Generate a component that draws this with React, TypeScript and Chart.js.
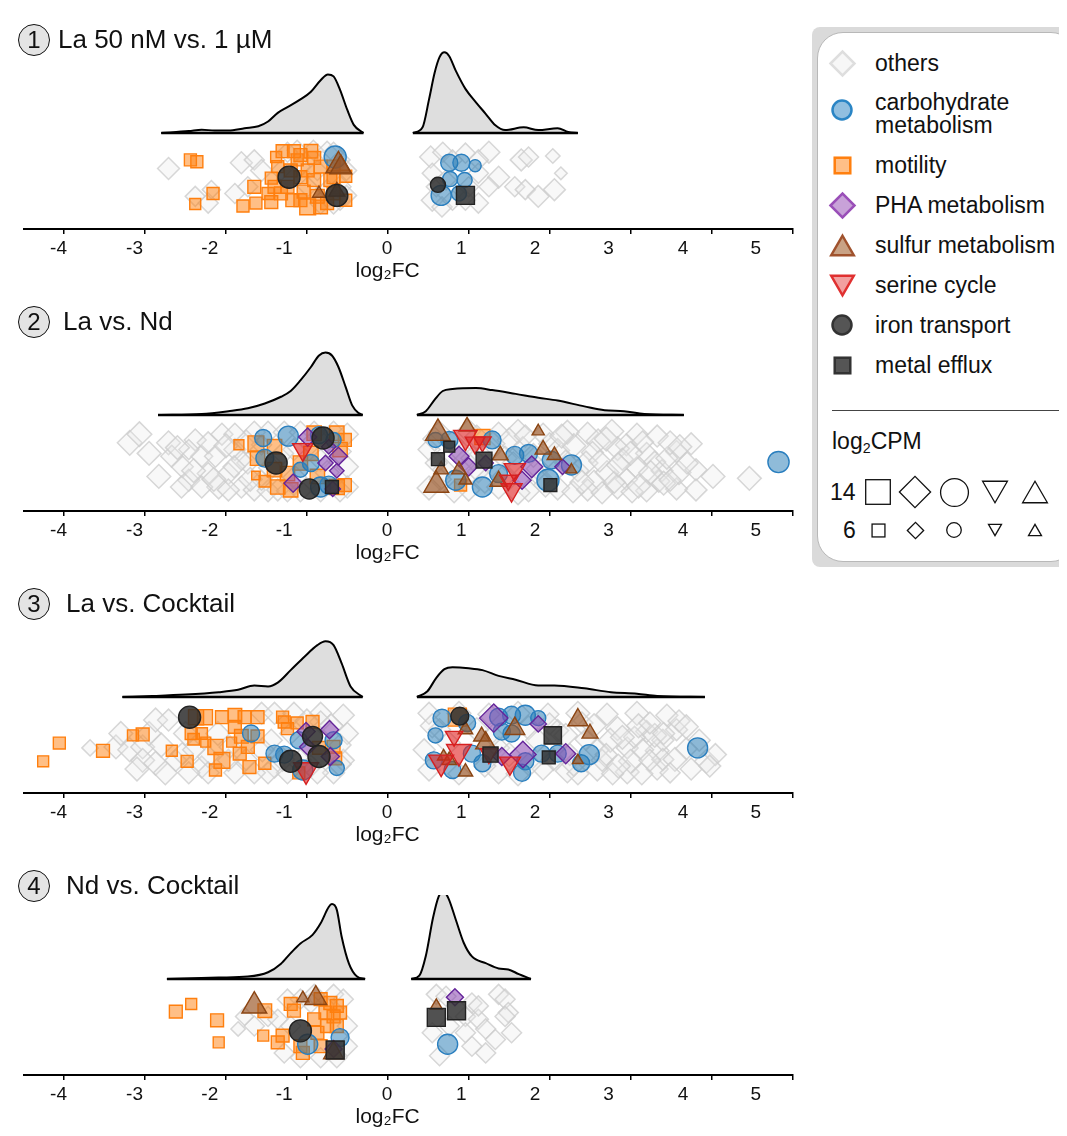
import React, { useEffect, useRef } from "react";
import { Chart, registerables } from "chart.js";

Chart.register(...registerables);

const FONT = "'Liberation Sans', Arial, Helvetica, sans-serif";
Chart.defaults.font.family = FONT;

type Pt = [number, number, number]; // [log2FC, jitter, log2CPM]
type Dn = [number, number]; // [log2FC, density]

// ---------- axis ----------
const xTicks = [-4, -3, -2, -1, 0, 1, 2, 3, 4, 5];
const xTickLabels = ["-4", "-3", "-2", "-1", "0", "1", "2", "3", "4", "5"];
const xTickLabelAt = [-4.07, -3.13, -2.2, -1.28, -0.01, 0.91, 1.82, 2.73, 3.65, 4.55];
const xTitle = "log\u2082FC";

const panelNumbers = ["1", "2", "3", "4"];
const panelTitles = ["La 50 nM vs. 1 µM", "La vs. Nd", "La vs. Cocktail", "Nd vs. Cocktail"];

const categories = [
  "others",
  "motility",
  "carbohydrate metabolism",
  "PHA metabolism",
  "sulfur metabolism",
  "serine cycle",
  "iron transport",
  "metal efflux",
];
const legendOrder = [
  "others",
  "carbohydrate metabolism",
  "motility",
  "PHA metabolism",
  "sulfur metabolism",
  "serine cycle",
  "iron transport",
  "metal efflux",
];
const sizeLegendValues = [14, 6];

// ---------- densities ----------
const dens1Neg: Dn[] = [[-2.8,0],[-2.46,0.02],[-2.3,0.035],[-2.14,0.025],[-1.97,0.025],[-1.77,0.05],[-1.6,0.07],[-1.48,0.12],[-1.36,0.21],[-1.24,0.27],[-1.08,0.35],[-0.95,0.43],[-0.83,0.55],[-0.74,0.61],[-0.67,0.59],[-0.59,0.45],[-0.5,0.24],[-0.42,0.085],[-0.3,0]];
const dens1Pos: Dn[] = [[0.31,0],[0.43,0.06],[0.51,0.35],[0.58,0.63],[0.64,0.79],[0.7,0.84],[0.76,0.8],[0.84,0.65],[0.96,0.46],[1.09,0.32],[1.21,0.2],[1.33,0.08],[1.45,0.03],[1.68,0.06],[1.86,0.03],[2.1,0.05],[2.23,0.01],[2.35,0]];
const dens2Neg: Dn[] = [[-2.84,0],[-2.3,0.01],[-1.97,0.04],[-1.73,0.07],[-1.52,0.12],[-1.32,0.19],[-1.2,0.25],[-1.08,0.36],[-0.95,0.5],[-0.85,0.62],[-0.77,0.65],[-0.69,0.62],[-0.61,0.5],[-0.52,0.29],[-0.44,0.1],[-0.36,0.02],[-0.31,0]];
const dens2Pos: Dn[] = [[0.36,0],[0.47,0.04],[0.58,0.16],[0.68,0.25],[0.8,0.27],[1.09,0.28],[1.29,0.26],[1.58,0.22],[1.86,0.18],[2.1,0.15],[2.43,0.09],[2.68,0.05],[2.92,0.04],[3.17,0.01],[3.66,0]];
const dens3Neg: Dn[] = [[-3.28,0],[-2.91,0.01],[-2.5,0.025],[-2.09,0.05],[-1.85,0.075],[-1.65,0.12],[-1.48,0.11],[-1.36,0.15],[-1.2,0.28],[-1.03,0.42],[-0.87,0.54],[-0.77,0.58],[-0.67,0.54],[-0.57,0.35],[-0.46,0.11],[-0.31,0]];
const dens3Pos: Dn[] = [[0.36,0],[0.49,0.06],[0.6,0.2],[0.7,0.29],[0.8,0.31],[1.0,0.3],[1.17,0.28],[1.37,0.22],[1.58,0.18],[1.86,0.12],[2.06,0.12],[2.43,0.09],[2.76,0.05],[3.08,0.035],[3.33,0.01],[3.92,0]];
const dens4Neg: Dn[] = [[-2.73,0],[-2.09,0.015],[-1.73,0.025],[-1.48,0.07],[-1.32,0.16],[-1.2,0.27],[-1.08,0.37],[-0.93,0.46],[-0.83,0.58],[-0.73,0.75],[-0.69,0.78],[-0.63,0.72],[-0.57,0.44],[-0.48,0.16],[-0.38,0.025],[-0.28,0]];
const dens4Pos: Dn[] = [[0.29,0],[0.39,0.035],[0.47,0.24],[0.56,0.64],[0.63,0.86],[0.69,0.91],[0.75,0.84],[0.84,0.62],[0.94,0.375],[1.04,0.235],[1.21,0.165],[1.37,0.11],[1.49,0.1],[1.62,0.05],[1.77,0]];

// ---------- panel 1 ----------
const p1Others: Pt[] = [[-2.71,0.63,9],[-2.38,0.34,8],[-2.22,0.27,8],[-2.18,0.41,7],[-1.89,0.37,8],[-1.81,0.69,9],[-1.65,0.72,8],[-1.56,0.61,9],[-1.73,0.44,8],[-1.12,0.82,8],[-0.92,0.82,8],[-0.75,0.8,9],[-0.67,0.8,8],[-0.59,0.72,8],[-0.59,0.44,9],[-0.59,0.3,8],[-0.83,0.27,9],[-1.32,0.61,8],[-1.08,0.65,8],[-0.87,0.61,8],[-0.99,0.44,8],[-0.75,0.41,8],[-0.67,0.27,9],[-1.24,0.8,8],[-0.51,0.61,8],[-0.51,0.35,8],
  [0.53,0.75,9],[0.68,0.8,8],[0.8,0.72,8],[0.96,0.79,8],[1.25,0.8,9],[1.12,0.72,8],[1.37,0.54,9],[1.12,0.58,8],[1.25,0.44,8],[1.65,0.72,9],[1.74,0.75,8],[2.04,0.76,5],[2.14,0.58,4],[1.57,0.44,8],[1.7,0.41,8],[1.86,0.34,9],[2.06,0.41,9],[0.55,0.58,8],[0.55,0.3,9],[0.67,0.23,8],[0.8,0.3,8],[0.96,0.3,8],[1.12,0.27,8],[0.6,0.44,8],[0.72,0.51,8],[1.0,0.44,8]];
const p1Carb: Pt[] = [[-0.65,0.75,10.5],[0.76,0.69,7.5],[0.91,0.69,7.5],[1.08,0.66,4.5],[0.77,0.52,6.3],[0.95,0.51,6.3],[0.66,0.35,9.3],[0.88,0.37,6.3]];
const p1Motility: Pt[] = [[-2.44,0.72,5.4],[-2.36,0.7,5.4],[-2.16,0.37,5.4],[-2.38,0.26,4.7],[-1.79,0.24,5.4],[-1.65,0.44,6],[-1.63,0.27,5.4],[-1.44,0.28,6],[-1.38,0.75,4.7],[-1.36,0.65,5.4],[-1.3,0.81,6],[-1.16,0.81,6],[-1.12,0.72,5.4],[-0.95,0.81,6.5],[-1.32,0.37,6],[-1.24,0.44,6],[-1.08,0.3,6],[-0.99,0.23,8],[-1.04,0.39,6],[-0.91,0.51,6],[-0.87,0.34,6.5],[-0.83,0.23,6.5],[-0.75,0.27,6],[-0.67,0.37,6],[-0.71,0.51,6],[-0.83,0.65,6],[-0.99,0.61,6],[-1.08,0.54,6],[-1.18,0.3,6],[-1.4,0.44,6],[-1.44,0.53,5.4],[-1.48,0.37,5.4],[-0.67,0.65,6],[-0.91,0.74,6],[-0.67,0.54,6],[-0.52,0.55,5.4],[-0.52,0.3,5.4],[-1.08,0.77,6],[-1.2,0.61,6]];
const p1PHA: Pt[] = [];
const p1Sulfur: Pt[] = [[-0.61,0.66,14],[-0.58,0.64,12],[-0.85,0.37,6],[-0.63,0.39,8]];
const p1Serine: Pt[] = [];
const p1Iron: Pt[] = [[-1.22,0.54,10.5],[-0.63,0.35,10.5],[0.62,0.46,6.3]];
const p1Efflux: Pt[] = [[0.96,0.35,9.5]];

// ---------- panel 2 ----------
const p2Others: Pt[] = [[-3.19,0.71,10.5],[-3.07,0.8,10.5],[-2.83,0.36,10],[-2.71,0.71,10],[-2.67,0.57,9],[-2.54,0.46,9],[-2.46,0.32,9],[-2.38,0.74,9],[-2.3,0.57,9],[-2.22,0.71,9],[-2.13,0.57,9],[-2.09,0.25,10],[-2.05,0.8,9],[-1.97,0.39,9],[-1.89,0.64,9],[-1.81,0.25,9],[-1.73,0.5,9],[-1.65,0.22,9],[-2.22,0.39,9],[-2.3,0.25,9],[-2.46,0.64,8],[-1.97,0.22,9],[-1.48,0.21,9],[-1.36,0.22,9],[-1.24,0.21,9],[-1.89,0.8,9],[-1.65,0.82,9],[-1.48,0.82,9],[-1.28,0.82,9],[-1.08,0.82,9],[-0.91,0.82,9],[-0.67,0.82,9],[-0.5,0.8,9],[-0.5,0.46,9],[-0.5,0.25,9],[-0.59,0.21,9],[-0.83,0.21,9],[-1.08,0.21,9],[-1.16,0.64,9],[-0.83,0.53,9],[-1.81,0.53,8],[-1.56,0.69,8],[-1.56,0.32,8],
  [-2.95,0.6,10],[-2.6,0.66,10],[-2.4,0.42,10],[-2.15,0.33,10],[-2.0,0.68,10],[-1.75,0.72,10],[-1.7,0.33,10],[-1.45,0.45,10],[-1.3,0.6,9],[-1.15,0.35,10],[-0.95,0.7,9],[-0.75,0.4,10],[-0.6,0.62,10],[-1.9,0.46,9],[-2.55,0.25,9],
  [0.64,0.82,9],[1.0,0.83,10],[1.37,0.81,9],[1.61,0.83,10],[1.92,0.8,9],[2.22,0.82,10],[2.47,0.81,9],[2.77,0.83,10],[3.08,0.8,9],[3.33,0.78,9],
  [0.8,0.72,9],[1.5,0.74,10],[2.0,0.7,9],[2.6,0.73,10],[2.95,0.69,9],
  [0.51,0.64,9],[1.25,0.62,10],[1.67,0.66,9],[2.1,0.63,10],[2.53,0.61,9],[2.84,0.65,10],[3.2,0.6,9],[3.57,0.62,9],
  [0.95,0.53,9],[1.45,0.55,10],[2.2,0.52,9],[2.45,0.5,10],[2.9,0.54,9],[3.3,0.51,9],
  [0.7,0.43,10],[1.12,0.41,9],[1.86,0.44,10],[2.35,0.42,9],[2.71,0.4,10],[3.08,0.45,9],[3.39,0.42,9],
  [0.65,0.33,9],[1.2,0.31,10],[1.9,0.34,9],[2.55,0.3,10],[2.95,0.33,9],[3.35,0.31,9],
  [0.51,0.24,10],[1.0,0.22,9],[1.37,0.25,10],[1.74,0.21,9],[2.1,0.24,10],[2.47,0.22,9],[2.84,0.25,10],[3.2,0.21,9],[3.57,0.23,9],
  [0.82,0.2,9],[1.61,0.19,10],[2.29,0.2,9],[2.65,0.19,9],[3.02,0.2,9],
  [0.58,0.75,10],[0.9,0.62,10],[1.1,0.77,10],[1.3,0.7,10],[1.45,0.37,10],[1.55,0.5,9],[1.8,0.58,10],[1.95,0.27,10],[2.05,0.4,9],[2.3,0.68,10],[2.4,0.3,10],[2.62,0.52,9],[2.7,0.75,10],[2.8,0.3,9],[3.0,0.6,10],[3.15,0.72,9],[3.25,0.4,10],[3.45,0.55,9],[3.6,0.4,10],[3.75,0.7,9],[1.05,0.55,10],[0.6,0.5,9],[1.7,0.78,9],[2.15,0.78,10],[2.85,0.48,10],[3.1,0.26,10],
  [3.49,0.71,10],[3.61,0.67,10],[3.41,0.29,10],[3.49,0.32,9],[4.02,0.36,10],[4.47,0.34,10],[3.81,0.43,9],[3.81,0.22,9],[3.7,0.5,9]];
const p2Carb: Pt[] = [[-1.54,0.76,7.5],[-1.52,0.55,8],[-1.23,0.78,9.3],[-0.85,0.79,7.5],[-0.95,0.5,7.5],[-0.83,0.25,9.3],[-0.73,0.27,8],[-0.67,0.74,6.3],[-1.08,0.43,6.3],
  [0.59,0.74,6.3],[0.76,0.74,7.5],[1.29,0.74,8],[1.57,0.58,8],[1.74,0.6,8],[2.27,0.48,9.3],[1.98,0.32,10.5],[2.02,0.53,8],[0.84,0.32,9.3],[1.17,0.25,9.3],[1.37,0.39,8],[4.83,0.51,10]];
const p2Motility: Pt[] = [[-1.84,0.69,4],[-1.63,0.7,8],[-1.61,0.55,7],[-1.63,0.37,3],[-1.52,0.31,5],[-1.4,0.67,7],[-1.4,0.43,7],[-1.36,0.25,7],[-1.2,0.22,7],[-1.24,0.39,7],[-1.08,0.5,7],[-0.95,0.6,7],[-0.87,0.36,7],[-0.91,0.81,7],[-0.63,0.81,7],[-0.63,0.25,7.5],[-0.59,0.64,7],[-0.53,0.74,6],[-0.53,0.27,6],
  [1.17,0.77,7.5],[0.9,0.27,5.4]];
const p2PHA: Pt[] = [[-0.99,0.77,7],[-0.61,0.57,7],[-0.77,0.5,5.5],[-0.63,0.42,5],[-0.73,0.67,5],[-1.17,0.29,7],[-0.68,0.23,5.5],
  [0.88,0.57,8],[1.0,0.46,7],[1.21,0.5,5.5],[1.78,0.46,9],[1.66,0.32,7],[2.16,0.46,5.5]];
const p2Sulfur: Pt[] = [[0.62,0.81,14],[0.6,0.27,14],[0.98,0.88,8],[1.86,0.83,5.5],[1.92,0.64,8],[2.06,0.58,7],[1.39,0.58,8],[1.37,0.31,9],[0.96,0.32,6],[0.66,0.43,7],[2.27,0.43,4.5],[0.88,0.43,7]];
const p2Serine: Pt[] = [[-1.05,0.64,11],[0.96,0.77,13],[1.08,0.71,10.5],[1.17,0.72,9],[1.57,0.43,11.5],[1.53,0.22,11.5],[1.49,0.32,9]];
const p2Iron: Pt[] = [[-1.38,0.5,10.5],[-0.8,0.76,10.5],[-0.97,0.23,9.3]];
const p2Efflux: Pt[] = [[-0.69,0.25,6],[0.76,0.67,4.7],[0.62,0.54,6],[1.19,0.53,8],[2.01,0.27,6]];

// ---------- panel 3 ----------
const p3Others: Pt[] = [[-3.68,0.47,6],[-3.36,0.48,10],[-3.19,0.45,10],[-3.03,0.48,10],[-2.95,0.62,10],[-3.03,0.34,10],[-2.87,0.31,10],[-2.75,0.21,10],[-2.62,0.34,9],[-2.87,0.76,10],[-2.71,0.76,9],[-2.54,0.41,9],[-2.3,0.27,9],[-2.22,0.38,9],[-1.56,0.83,9],[-1.4,0.83,9],[-1.4,0.27,9],[-1.16,0.83,9],[-0.83,0.83,9],[-0.55,0.81,9],[-0.5,0.62,9],[-0.55,0.34,9],[-0.67,0.21,9],[-0.87,0.21,9],[-1.24,0.21,9],[-1.48,0.21,9],[-1.65,0.21,9],[-1.89,0.21,9],[-1.97,0.34,9],[-2.22,0.21,9],[-2.46,0.21,9],[-1.44,0.55,9],[-1.08,0.34,9],[-0.83,0.74,9],[-0.59,0.5,9],
  [-3.3,0.62,10],[-3.1,0.25,10],[-2.8,0.5,10],[-2.5,0.62,10],[-2.4,0.45,9],[-2.1,0.62,10],[-1.95,0.48,9],[-1.75,0.35,9],[-1.55,0.45,10],[-1.3,0.35,10],[-1.2,0.62,9],[-1.0,0.75,10],[-0.7,0.7,10],[-0.6,0.3,10],[-0.95,0.28,9],
  [0.51,0.83,9],[0.88,0.83,10],[1.25,0.82,9],[1.61,0.83,10],[1.98,0.82,9],[2.35,0.83,10],[2.71,0.82,9],[3.08,0.83,10],[3.45,0.81,9],
  [0.64,0.66,9],[1.74,0.68,10],[2.1,0.65,9],[2.84,0.67,10],[3.2,0.64,9],[3.57,0.66,9],
  [2.59,0.45,10],[2.96,0.47,9],[3.33,0.44,10],[3.69,0.46,9],[0.45,0.45,9],[1.37,0.47,9],
  [2.45,0.56,9],[2.75,0.55,10],[3.05,0.58,9],[3.4,0.55,9],
  [0.51,0.24,9],[1.37,0.22,10],[1.92,0.25,9],[2.22,0.23,10],[2.59,0.24,9],[2.96,0.22,10],[3.33,0.25,9],
  [0.88,0.2,9],[1.61,0.2,10],[2.35,0.2,9],[2.78,0.2,9],[3.14,0.2,9],
  [2.65,0.34,9],[3.0,0.33,10],[3.4,0.35,9],[2.4,0.73,9],[2.25,0.4,9],
  [0.55,0.7,10],[0.75,0.52,10],[1.1,0.66,10],[1.3,0.6,9],[1.5,0.4,10],[1.85,0.55,10],[2.0,0.72,9],[2.2,0.6,10],[2.3,0.3,10],[2.55,0.7,10],[2.7,0.4,9],[2.9,0.58,10],[3.1,0.7,10],[3.15,0.45,9],[3.3,0.6,10],[3.55,0.35,10],[3.6,0.75,9],[3.75,0.25,9],[1.2,0.28,9],[1.75,0.3,10],[2.05,0.35,9],[2.85,0.28,10],
  [3.69,0.69,10],[3.94,0.33,10],[3.49,0.21,8],[3.24,0.73,9],[3.41,0.62,9],[3.24,0.34,9],[4.05,0.4,9],[3.98,0.28,9],[3.85,0.55,9]];
const p3Carb: Pt[] = [[-1.69,0.62,7.5],[-1.4,0.41,7.5],[-1.1,0.55,7.5],[-1.05,0.24,9.3],[-0.67,0.55,7.5],[-0.63,0.26,6.3],[-1.28,0.4,7.5],
  [0.67,0.78,8],[0.59,0.6,6.3],[0.98,0.73,7.5],[1.37,0.79,8],[1.53,0.81,8],[1.7,0.81,9.3],[1.86,0.78,6.3],[1.53,0.62,7.5],[1.41,0.64,7.5],[0.57,0.34,7.5],[0.8,0.24,7.5],[1.17,0.31,7.5],[1.04,0.41,7.5],[1.66,0.21,7.5],[1.9,0.41,7.5],[2.1,0.41,7.5],[2.39,0.31,7.5],[2.49,0.4,9.3],[3.83,0.47,9.3],[1.7,0.33,7.5]];
const p3Motility: Pt[] = [[-4.26,0.33,4.7],[-4.06,0.52,5.4],[-3.52,0.44,6],[-3.15,0.6,4.7],[-3.03,0.61,6],[-2.67,0.44,4.7],[-2.48,0.33,5.4],[-2.43,0.62,5.4],[-2.4,0.56,5],[-2.3,0.62,5],[-2.25,0.53,4],[-2.37,0.79,7.5],[-2.26,0.79,7.5],[-2.13,0.48,7.5],[-2.05,0.34,8],[-2.13,0.24,5.4],[-2.05,0.79,6],[-1.89,0.81,6.5],[-1.77,0.79,6],[-1.89,0.69,6],[-1.81,0.59,6.5],[-1.93,0.53,4],[-1.73,0.48,6],[-1.83,0.41,6],[-1.71,0.27,6],[-1.61,0.79,6],[-1.52,0.31,5.4],[-1.61,0.59,6],[-1.3,0.79,5.4],[-1.28,0.74,5.4],[-1.24,0.67,5.4],[-1.12,0.73,5.4],[-0.93,0.74,6],[-1.1,0.21,5.4],[-0.67,0.48,6],[-0.85,0.47,6],[-0.65,0.36,6],
  [0.86,0.79,9.5]];
const p3PHA: Pt[] = [[-1.01,0.64,7],[-0.72,0.66,7],[-0.71,0.38,7],[-0.99,0.48,6],
  [1.31,0.78,12.5],[1.86,0.72,6],[1.67,0.4,11.5],[2.2,0.41,8],[1.41,0.38,7]];
const p3Sulfur: Pt[] = [[1.57,0.67,10.7],[2.35,0.76,10.7],[2.5,0.62,8],[1.16,0.59,8],[1.21,0.52,10.7],[2.35,0.34,4.5],[0.69,0.38,5.5],[0.96,0.22,7],[0.96,0.66,7],[0.76,0.34,7]];
const p3Serine: Pt[] = [[-1.01,0.24,14],[0.82,0.59,9],[0.88,0.43,14],[0.66,0.32,14],[1.25,0.41,9],[1.51,0.31,11.5]];
const p3Iron: Pt[] = [[-2.45,0.79,10.5],[-1.2,0.33,10.5],[-0.93,0.59,9.3],[-0.85,0.38,10.5],[0.89,0.8,8]];
const p3Efflux: Pt[] = [[2.04,0.6,9],[1.99,0.37,6],[1.27,0.4,7.5]];

// ---------- panel 4 ----------
const p4Others: Pt[] = [[-1.85,0.48,5],[-1.77,0.61,7],[-1.65,0.51,8],[-1.48,0.61,8],[-1.36,0.58,8],[-1.24,0.79,8],[-1.08,0.79,8],[-0.91,0.84,8],[-0.67,0.84,8],[-0.55,0.79,8],[-0.5,0.51,8],[-0.5,0.3,8],[-0.63,0.18,8],[-0.83,0.18,8],[-1.08,0.18,8],[-1.28,0.23,8],[-1.2,0.51,8],[-0.95,0.75,8],
  [0.6,0.84,8],[0.72,0.82,8],[1.04,0.75,8],[0.96,0.61,8],[1.12,0.58,8],[1.21,0.48,8],[1.37,0.84,8],[1.45,0.79,8],[1.49,0.65,8],[1.53,0.44,8],[1.33,0.37,8],[1.21,0.23,8],[1.04,0.3,8],[0.64,0.2,8],[0.55,0.44,8],[0.96,0.44,8],[0.76,0.51,8],[1.12,0.72,8],[1.45,0.61,8]];
const p4Carb: Pt[] = [[-0.99,0.32,9.3],[-0.59,0.39,8],[0.74,0.32,9.3]];
const p4Motility: Pt[] = [[-2.62,0.66,6],[-2.43,0.74,4.7],[-2.11,0.57,6],[-2.09,0.34,4.7],[-1.54,0.41,4.7],[-1.52,0.67,6.5],[-1.36,0.34,6],[-1.3,0.41,6],[-1.2,0.74,6],[-1.16,0.67,6],[-1.08,0.3,6],[-1.05,0.23,6],[-0.91,0.58,6],[-0.87,0.44,6],[-0.83,0.3,6],[-0.71,0.75,6],[-0.63,0.72,6],[-0.67,0.61,6],[-0.63,0.51,6],[-0.75,0.51,6],[-0.59,0.65,6],[-0.77,0.65,6],[-0.83,0.79,6]];
const p4PHA: Pt[] = [[-0.67,0.27,6.4],[0.83,0.81,6.4]];
const p4Sulfur: Pt[] = [[-1.65,0.72,14],[-1.05,0.8,5.5],[-0.89,0.8,12],[-0.67,0.23,10.7],[0.6,0.72,5.5]];
const p4Serine: Pt[] = [];
const p4Iron: Pt[] = [[-1.08,0.46,10.5]];
const p4Efflux: Pt[] = [[-0.65,0.26,9.5],[0.6,0.6,9.5],[0.85,0.67,9.5]];

const panels = [
  { densNeg: dens1Neg, densPos: dens1Pos, series: { others: p1Others, motility: p1Motility, "carbohydrate metabolism": p1Carb, "PHA metabolism": p1PHA, "sulfur metabolism": p1Sulfur, "serine cycle": p1Serine, "iron transport": p1Iron, "metal efflux": p1Efflux } },
  { densNeg: dens2Neg, densPos: dens2Pos, series: { others: p2Others, motility: p2Motility, "carbohydrate metabolism": p2Carb, "PHA metabolism": p2PHA, "sulfur metabolism": p2Sulfur, "serine cycle": p2Serine, "iron transport": p2Iron, "metal efflux": p2Efflux } },
  { densNeg: dens3Neg, densPos: dens3Pos, series: { others: p3Others, motility: p3Motility, "carbohydrate metabolism": p3Carb, "PHA metabolism": p3PHA, "sulfur metabolism": p3Sulfur, "serine cycle": p3Serine, "iron transport": p3Iron, "metal efflux": p3Efflux } },
  { densNeg: dens4Neg, densPos: dens4Pos, series: { others: p4Others, motility: p4Motility, "carbohydrate metabolism": p4Carb, "PHA metabolism": p4PHA, "sulfur metabolism": p4Sulfur, "serine cycle": p4Serine, "iron transport": p4Iron, "metal efflux": p4Efflux } },
];

// ---------- styles ----------
const STYLE: Record<string, any> = {
  others: { shape: "rectRot", k: 1.12, rot: 0, fill: "rgba(232,232,232,0.3)", stroke: "rgba(205,205,205,0.8)", w: 1.5, lfill: "#f7f7f7", lstroke: "#dedede", lr: 12 },
  "carbohydrate metabolism": { shape: "circle", k: 1, rot: 0, fill: "rgba(31,119,180,0.5)", stroke: "#2a7fbf", w: 1.4, lfill: "#91bfe0", lstroke: "#2a85c5", lr: 9.5 },
  motility: { shape: "rect", k: 1.25, rot: 0, fill: "rgba(255,127,14,0.5)", stroke: "#ff7f0e", w: 1.4, lfill: "#ffbf87", lstroke: "#ff7f0e", lr: 11 },
  "PHA metabolism": { shape: "rectRot", k: 1.12, rot: 0, fill: "rgba(135,65,175,0.55)", stroke: "#65259a", w: 1.4, lfill: "#c8a2d8", lstroke: "#9a4fb8", lr: 12 },
  "sulfur metabolism": { shape: "triangle", k: 1.03, rot: 0, fill: "rgba(150,80,30,0.65)", stroke: "#8b4513", w: 1.4, lfill: "#c9a285", lstroke: "#a0522d", lr: 13 },
  "serine cycle": { shape: "triangle", k: 1.03, rot: 180, fill: "rgba(225,30,30,0.6)", stroke: "#d62020", w: 1.4, lfill: "#f2a0a0", lstroke: "#e03030", lr: 13 },
  "iron transport": { shape: "circle", k: 1, rot: 0, fill: "rgba(45,45,45,0.85)", stroke: "#222", w: 1.4, lfill: "#555", lstroke: "#333", lr: 9.5 },
  "metal efflux": { shape: "rect", k: 1.25, rot: 0, fill: "rgba(50,50,50,0.85)", stroke: "#222", w: 1.4, lfill: "#555", lstroke: "#333", lr: 11 },
};

const BASE = 1; // density baseline in y units
const markerRadius = (cpm: number) => 2.3 + 0.83 * cpm;

function makeConfig(p: any): any {
  const datasets: any[] = [];
  [p.densNeg, p.densPos].forEach((d: Dn[]) => {
    datasets.push({
      data: d.map(([x, h]) => ({ x, y: BASE + h })),
      showLine: true,
      fill: { value: BASE },
      backgroundColor: "#dedede",
      borderColor: "#000",
      borderWidth: 2,
      pointRadius: 0,
      cubicInterpolationMode: "monotone",
      order: 300,
    });
    datasets.push({
      data: [{ x: d[0][0], y: BASE }, { x: d[d.length - 1][0], y: BASE }],
      showLine: true,
      fill: false,
      borderColor: "#000",
      borderWidth: 2.5,
      pointRadius: 0,
      order: 299,
    });
  });
  categories.forEach((c, k) => {
    const st = STYLE[c];
    datasets.push({
      label: c,
      data: p.series[c],
      showLine: false,
      pointStyle: st.shape,
      pointRotation: st.rot,
      pointRadius: (ctx: any) => markerRadius(ctx.raw ? ctx.raw[2] : 8) * st.k,
      pointBackgroundColor: st.fill,
      pointBorderColor: st.stroke,
      pointBorderWidth: st.w,
      backgroundColor: st.fill,
      borderColor: st.stroke,
      order: 100 - k,
    });
  });
  return {
    type: "scatter",
    data: { datasets },
    options: {
      responsive: false,
      animation: false,
      events: [],
      layout: { padding: { left: 12, right: 11, top: 41, bottom: 4 } },
      plugins: { legend: { display: false }, tooltip: { enabled: false } },
      scales: {
        x: {
          type: "linear",
          position: "bottom",
          weight: 0,
          min: -4.5,
          max: 5,
          afterBuildTicks: (s: any) => {
            s.ticks = xTicks.map((v) => ({ value: v }));
          },
          ticks: { display: false },
          grid: { display: true, drawOnChartArea: false, drawTicks: true, tickLength: 5, color: "#000", lineWidth: 1.5 },
          border: { display: true, color: "#000", width: 2 },
        },
        xl: {
          type: "linear",
          position: "bottom",
          weight: 1,
          min: -4.5,
          max: 5,
          afterBuildTicks: (s: any) => {
            s.ticks = xTickLabelAt.map((v) => ({ value: v }));
          },
          ticks: {
            autoSkip: false,
            maxRotation: 0,
            padding: 3.5,
            color: "#111",
            font: { size: 19, family: FONT },
            callback: (_v: any, i: number) => xTickLabels[i],
          },
          grid: { display: false, drawTicks: false },
          border: { display: false },
          title: {
            display: true,
            text: xTitle + "\u0020\u0020\u0020\u0020\u0020\u0020\u0020",
            color: "#111",
            font: { size: 21, family: FONT },
            padding: { top: -5, bottom: 2 },
          },
        },
        y: { type: "linear", display: false, min: 0, max: 1.875 },
      },
    },
  };
}

const titleLeft = [50, 55, 58, 58];

function Panel({ p, i }: { p: any; i: number }) {
  const ref = useRef<HTMLCanvasElement>(null);
  useEffect(() => {
    const chart = new Chart(ref.current as HTMLCanvasElement, makeConfig(p));
    return () => chart.destroy();
  }, [p]);
  return (
    <div style={{ position: "relative", width: 800, height: 282 }}>
      <canvas ref={ref} width={800} height={282} style={{ position: "absolute", left: 0, top: 0, width: 800, height: 282 }} />
      <div
        style={{
          position: "absolute", left: 10, top: 16, width: 30, height: 30, borderRadius: "50%",
          border: "1.5px solid #111", background: "#e4e4e4", textAlign: "center", lineHeight: "30px",
          fontSize: 24, color: "#111",
        }}
      >
        {panelNumbers[i]}
      </div>
      <div style={{ position: "absolute", left: titleLeft[i], top: 16, fontSize: 26, lineHeight: "30px", whiteSpace: "nowrap", color: "#111" }}>
        {panelTitles[i]}
      </div>
    </div>
  );
}

function Marker({ shape, r, rot, fill, stroke, sw, cx, cy }: any) {
  const size = Math.ceil(2 * r + sw * 2 + 4);
  const c = size / 2;
  let el: any = null;
  if (shape === "circle") el = <circle cx={c} cy={c} r={r} fill={fill} stroke={stroke} strokeWidth={sw} />;
  else if (shape === "rect") {
    const h = r * Math.SQRT1_2;
    el = <rect x={c - h} y={c - h} width={2 * h} height={2 * h} fill={fill} stroke={stroke} strokeWidth={sw} />;
  } else if (shape === "rectRot") {
    el = <polygon points={`${c - r},${c} ${c},${c - r} ${c + r},${c} ${c},${c + r}`} fill={fill} stroke={stroke} strokeWidth={sw} />;
  } else {
    const hw = 0.866 * r;
    const hh = 0.75 * r;
    const pts = rot === 180
      ? `${c - hw},${c - hh} ${c + hw},${c - hh} ${c},${c + hh}`
      : `${c},${c - hh} ${c + hw},${c + hh} ${c - hw},${c + hh}`;
    el = <polygon points={pts} fill={fill} stroke={stroke} strokeWidth={sw} strokeLinejoin="miter" />;
  }
  return (
    <svg width={size} height={size} style={{ position: "absolute", left: cx - c, top: cy - c, overflow: "visible" }}>
      {el}
    </svg>
  );
}

const legendRowY = [36, 83, 138, 178, 218, 258, 298, 338];
const sizeShapes = [
  { shape: "rect", k: 1.25, rot: 0, x: 66 },
  { shape: "rectRot", k: 1.12, rot: 0, x: 103 },
  { shape: "circle", k: 1, rot: 0, x: 142 },
  { shape: "triangle", k: 1.03, rot: 180, x: 183 },
  { shape: "triangle", k: 1.03, rot: 0, x: 223 },
];
const sizeRowY = [465, 503];

function Legend() {
  return (
    <div
      style={{
        position: "absolute", left: 804, top: 19, width: 270, height: 540, background: "#dadada",
        borderRadius: 8, boxSizing: "border-box", padding: 5,
      }}
    >
      <div style={{ position: "relative", width: "100%", height: "100%", background: "#fff", border: "1.5px solid #b8b8b8", borderRadius: 26, boxSizing: "border-box" }} />
      {legendOrder.map((c, k) => {
        const st = STYLE[c];
        const y = legendRowY[k];
        const two = c === "carbohydrate metabolism";
        return (
          <React.Fragment key={c}>
            <Marker shape={st.shape} r={st.lr} rot={st.rot} fill={st.lfill} stroke={st.lstroke} sw={2.5} cx={30} cy={y} />
            <div style={{ position: "absolute", left: 63, top: two ? y - 19 : y - 12.5, fontSize: 23, lineHeight: two ? "23px" : "25px", color: "#111", whiteSpace: "nowrap" }}>
              {two ? (<>carbohydrate<br />metabolism</>) : c}
            </div>
          </React.Fragment>
        );
      })}
      <div style={{ position: "absolute", left: 20, top: 383, width: 230, height: 0, borderTop: "1.2px solid #444" }} />
      <div style={{ position: "absolute", left: 20, top: 400, fontSize: 23, lineHeight: "28px", color: "#111", whiteSpace: "nowrap" }}>
        log<sub style={{ fontSize: "0.62em", verticalAlign: "-0.25em" }}>2</sub>CPM
      </div>
      {sizeLegendValues.map((v, j) => (
        <React.Fragment key={v}>
          <div style={{ position: "absolute", left: j === 0 ? 18 : 31, top: sizeRowY[j] - 13, fontSize: 23, lineHeight: "26px", color: "#111" }}>{v}</div>
          {sizeShapes.map((s, q) => (
            <Marker key={q} shape={s.shape} r={markerRadius(v) * s.k} rot={s.rot} fill="none" stroke="#111" sw={1.3} cx={s.x} cy={sizeRowY[j]} />
          ))}
        </React.Fragment>
      ))}
    </div>
  );
}

export default function App() {
  useEffect(() => {
    document.documentElement.style.overflow = "hidden";
  }, []);
  return (
    <div style={{ position: "relative", width: 1059, height: 1128, overflow: "hidden", fontFamily: FONT }}>
      {panels.map((p, i) => (
        <Panel key={i} p={p} i={i} />
      ))}
      <Legend />
    </div>
  );
}
